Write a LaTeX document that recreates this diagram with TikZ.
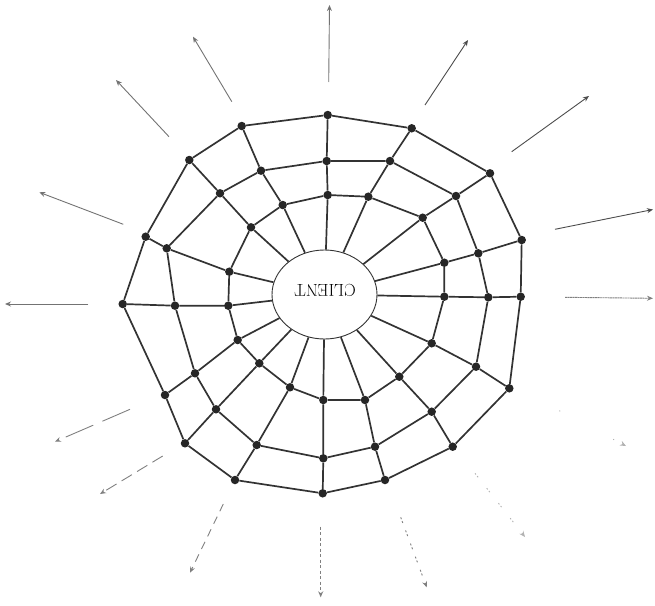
\documentclass[tikz,border=0pt]{standalone}
\usepackage{xcolor}
\usepackage{tikz}
\usetikzlibrary{arrows.meta,shapes.geometric}
\tikzset{
knot/.style={
circle,
fill=black!85,
inner sep=0pt,
minimum size=8.5pt
},
client/.style={
draw=black!80,
ellipse,
line width=0.9pt,
minimum width=105pt,
minimum height=89pt,
inner sep=0pt
},
strand/.style={
draw=black!80,
line width=1.7pt,
line join=round
},
ray/.style={
-{Stealth[length=6pt,width=5pt]},
draw=black!55,
line width=0.9pt
},
fadedray/.style={
ray,
draw=black!50,
dash pattern=on 3pt off 2.5pt
},
ghostray/.style={
ray,
draw=black!30,
dash pattern=on 1pt off 9pt
}
}

\begin{document}
\begin{tikzpicture}[x=1pt,y=-1pt]
\useasboundingbox (0,0) rectangle (655,605);

\node[client](c) at (324.5,294.5){};
\node[rotate=180,font=\LARGE] at (325,290){CLIENT};

% outer ring
\node[knot](o1) at (327.7,115){};
\node[knot](o2) at (411.7,128.3){};
\node[knot](o3) at (490,173.3){};
\node[knot](o4) at (521.7,240){};
\node[knot](o5) at (520.7,296.7){};
\node[knot](o6) at (509.3,388.3){};
\node[knot](o7) at (452.7,446.7){};
\node[knot](o8) at (385,480){};
\node[knot](o9) at (322.7,493.3){};
\node[knot](o10) at (235,480){};
\node[knot](o11) at (185,443.3){};
\node[knot](o12) at (165,395){};
\node[knot](o13) at (122.7,304){};
\node[knot](o14) at (145.7,236.7){};
\node[knot](o15) at (189.3,160){};
\node[knot](o16) at (241.7,126){};

% middle ring
\node[knot](m1) at (326.7,161){};
\node[knot](m2) at (390,161){};
\node[knot](m3) at (456,196){};
\node[knot](m4) at (478.3,253.3){};
\node[knot](m5) at (488.3,297.3){};
\node[knot](m6) at (476,366.7){};
\node[knot](m7) at (431.7,411.7){};
\node[knot](m8) at (375,446.7){};
\node[knot](m9) at (323.3,458.3){};
\node[knot](m10) at (256.7,445){};
\node[knot](m11) at (216,409.3){};
\node[knot](m12) at (195,373.3){};
\node[knot](m13) at (175,305.7){};
\node[knot](m14) at (166.7,248.3){};
\node[knot](m15) at (220,193.3){};
\node[knot](m16) at (261,170.7){};

% inner ring
\node[knot](i1) at (327.7,195){};
\node[knot](i2) at (368.3,196.7){};
\node[knot](i3) at (422.7,217.7){};
\node[knot](i4) at (444.3,262.7){};
\node[knot](i5) at (444.3,296.7){};
\node[knot](i6) at (431.7,343.3){};
\node[knot](i7) at (399.3,376.7){};
\node[knot](i8) at (365,400){};
\node[knot](i9) at (323.3,400){};
\node[knot](i10) at (290,387.3){};
\node[knot](i11) at (259.3,363.3){};
\node[knot](i12) at (237.7,340){};
\node[knot](i13) at (228.3,305.7){};
\node[knot](i14) at (229.3,271.7){};
\node[knot](i15) at (251,227.3){};
\node[knot](i16) at (282.7,205){};

\draw[strand](o1)--(o2)--(o3)--(o4)--(o5)--(o6)--(o7)--(o8)--(o9)--(o10)--(o11)--(o12)--(o13)--(o14)--(o15)--(o16)--(o1);
\draw[strand](m1)--(m2)--(m3)--(m4)--(m5)--(m6)--(m7)--(m8)--(m9)--(m10)--(m11)--(m12)--(m13)--(m14)--(m15)--(m16)--(m1);
\draw[strand](i1)--(i2)--(i3)--(i4)--(i5)--(i6)--(i7)--(i8)--(i9)--(i10)--(i11)--(i12)--(i13)--(i14)--(i15)--(i16)--(i1);

% spokes
\foreach \k in {1,...,16}
  \draw[strand](c)--(i\k)--(m\k)--(o\k);

% rays
\coordinate(s1) at (328.7,82); \coordinate(t1) at (329.5,5);
\coordinate(s2) at (425,105); \coordinate(t2) at (468,40);
\coordinate(s3) at (511.7,151.7); \coordinate(t3) at (589,96);
\coordinate(s4) at (555,229.3); \coordinate(t4) at (653,209.5);
\coordinate(s5) at (565,297.3); \coordinate(t5) at (653,298.3);
\coordinate(s6) at (559.3,410.7); \coordinate(t6) at (626,446);
\coordinate(s7) at (475,473.3); \coordinate(t7) at (525,537);
\coordinate(s8) at (400.7,517.3); \coordinate(t8) at (426.7,587.3);
\coordinate(s9) at (320.7,526.7); \coordinate(t9) at (320.7,597.3);
\coordinate(s10) at (223.3,504); \coordinate(t10) at (190,572.7);
\coordinate(s11) at (162.7,456); \coordinate(t11) at (100,494);
\coordinate(s12) at (130,409.3); \coordinate(t12) at (55,441.7);
\coordinate(s13) at (88.3,304); \coordinate(t13) at (5,304);
\coordinate(s14) at (123.3,224.3); \coordinate(t14) at (39.3,192.3);
\coordinate(s15) at (169,136.7); \coordinate(t15) at (116,80);
\coordinate(s16) at (231.8,101.7); \coordinate(t16) at (193,36.7);

\draw[ray](s1)--(t1);
\draw[ray,draw=black!70](s2)--(t2);
\draw[ray,draw=black!70](s3)--(t3);
\draw[ray,draw=black!70](s4)--(t4);
\draw[fadedray,dash pattern=on 2pt off 0.5pt](s5)--(t5);
\draw[ghostray,dash pattern=on 1pt off 60pt](s6)--(t6);
\draw[ghostray,dash pattern=on 1.5pt off 2pt on 1.5pt off 14pt](s7)--(t7);
\draw[fadedray,dash pattern=on 2pt off 2pt on 2pt off 8pt](s8)--(t8);
\draw[fadedray](s9)--(t9);
\draw[fadedray,dash pattern=on 8pt off 6pt](s10)--(t10);
\draw[fadedray,dash pattern=on 12pt off 6pt](s11)--(t11);
\draw[fadedray,dash pattern=on 30pt off 10pt](s12)--(t12);
\draw[ray](s13)--(t13);
\draw[ray](s14)--(t14);
\draw[ray](s15)--(t15);
\draw[ray](s16)--(t16);
\end{tikzpicture}
\end{document}
